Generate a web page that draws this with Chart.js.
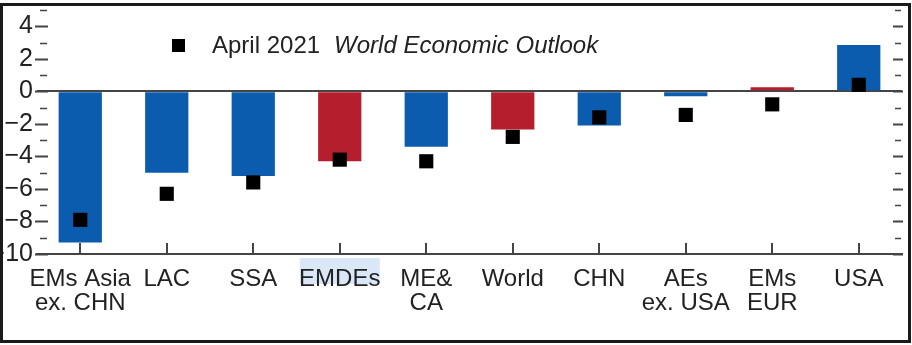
<!DOCTYPE html>
<html>
<head>
    <title>Growth forecast revisions</title>
    <script src="https://cdn.jsdelivr.net/npm/chart.js@4.4.0/dist/chart.umd.min.js"></script>
    <style>
        body {
            margin: 0;
            background: #fff;
            font-family: 'Liberation Sans', Arial, sans-serif;
        }
        .wrap {
            position: relative;
            width: 912px;
            height: 345px;
        }
        .frame {
            position: absolute;
            left: 0;
            top: 3px;
            width: 911px;
            height: 340px;
            box-sizing: border-box;
            border: 3px solid #1a1a1a;
            pointer-events: none;
        }
        .legend {
            position: absolute;
            left: 172px;
            top: 32px;
            font-size: 24px;
            line-height: 25px;
            color: #222;
            white-space: nowrap;
        }
        .legend .box {
            display: inline-block;
            width: 13px;
            height: 13px;
            background: #000;
            margin-right: 27px;
            vertical-align: 1px;
        }
        .legend em {
            margin-left: 14px;
        }
    </style>
</head>
<body>
    <div class="wrap">
        <canvas id="revChart" width="912" height="345"></canvas>
        <div class="legend"><span class="box"></span>April 2021<em>World Economic Outlook</em></div>
        <div class="frame"></div>
    </div>

    <script>
        // regions, left to right
        const categories = [['EMs Asia', 'ex. CHN'], 'LAC', 'SSA', 'EMDEs', ['ME&', 'CA'], 'World', 'CHN', ['AEs', 'ex. USA'], ['EMs', 'EUR'], 'USA'];
        // current revision (bars) and the April 2021 WEO (squares), percentage points
        const current = [-9.3, -5.0, -5.2, -4.3, -3.4, -2.35, -2.1, -0.3, 0.25, 2.85];
        const april2021 = [-7.9, -6.3, -5.6, -4.2, -4.3, -2.8, -1.6, -1.45, -0.8, 0.4];
        // aggregates drawn in red
        const aggregates = ['EMDEs', 'World', 'EMs EUR'];
        const yTicks = { min: -10, max: 5, step: 1 };

        const blue = '#0b5cae';
        const red = '#b41e2d';
        const ink = '#222';
        const axisGrey = '#444';
        const fontFamily = "'Liberation Sans', Arial, sans-serif";
        const highlighted = 'EMDEs';

        function catName(c) {
            return Array.isArray(c) ? c.join(' ') : c;
        }

        // IMF style tick marks: inside the plot on both sides, and up from the x axis
        const tickMarks = {
            id: 'tickMarks',
            beforeDraw(chart) {
                const { ctx, scales: { x } } = chart;
                const i = categories.findIndex(c => catName(c) === highlighted);
                if (i < 0) return;
                const cx = x.getPixelForValue(i);
                ctx.save();
                ctx.fillStyle = '#d9e7f6';
                ctx.fillRect(cx - 40, x.top + 4, 80, 26);
                ctx.restore();
            },
            afterDraw(chart) {
                const { ctx, chartArea: a, scales: { x, y } } = chart;
                ctx.save();
                ctx.strokeStyle = axisGrey;
                y.ticks.forEach(t => {
                    const py = Math.round(y.getPixelForValue(t.value)) + 0.5;
                    const major = t.value % 2 === 0;
                    ctx.lineWidth = major ? 2 : 1.5;
                    ctx.beginPath();
                    if (major) {
                        ctx.moveTo(a.left - 2, py); ctx.lineTo(a.left + 11, py);
                        ctx.moveTo(a.right - 9, py); ctx.lineTo(a.right + 1, py);
                    } else {
                        ctx.moveTo(a.left + 3, py); ctx.lineTo(a.left + 10, py);
                        ctx.moveTo(a.right - 7, py); ctx.lineTo(a.right - 1, py);
                    }
                    ctx.stroke();
                });
                ctx.lineWidth = 2;
                categories.forEach((c, i) => {
                    const px = Math.round(x.getPixelForValue(i));
                    ctx.beginPath();
                    ctx.moveTo(px, a.bottom);
                    ctx.lineTo(px, a.bottom - 11);
                    ctx.stroke();
                });
                ctx.restore();
            }
        };

        const ctx = document.getElementById('revChart').getContext('2d');
        const revChart = new Chart(ctx, {
            type: 'bar',
            data: {
                labels: categories,
                datasets: [
                    {
                        type: 'line',
                        label: 'April 2021 World Economic Outlook',
                        data: april2021,
                        showLine: false,
                        pointStyle: 'rect',
                        pointRadius: 10,
                        pointBackgroundColor: '#000',
                        pointBorderWidth: 0,
                        order: 0
                    },
                    {
                        label: 'Revision',
                        data: current,
                        backgroundColor: c => aggregates.includes(catName(categories[c.dataIndex])) ? red : blue,
                        barPercentage: 0.5,
                        categoryPercentage: 1.0,
                        order: 1
                    }
                ]
            },
            options: {
                responsive: false,
                animation: false,
                devicePixelRatio: 1,
                layout: { padding: { top: 6, right: 6, left: 0, bottom: 0 } },
                plugins: {
                    legend: { display: false },
                    tooltip: { enabled: false }
                },
                scales: {
                    x: {
                        grid: { display: false, drawTicks: false },
                        border: { display: true, color: axisGrey, width: 2 },
                        ticks: {
                            color: ink,
                            font: { family: fontFamily, size: 24, lineHeight: 1.0 },
                            padding: 13,
                            autoSkip: false,
                            maxRotation: 0,
                            minRotation: 0
                        },
                        afterFit: s => { s.height = 91; s.paddingLeft = 0; s.paddingRight = 0; }
                    },
                    y: {
                        min: yTicks.min,
                        max: yTicks.max,
                        grid: {
                            drawTicks: false,
                            color: c => c.tick && c.tick.value === 0 ? axisGrey : 'transparent',
                            lineWidth: 2
                        },
                        border: { display: false },
                        ticks: {
                            stepSize: yTicks.step,
                            autoSkip: false,
                            color: ink,
                            padding: 4,
                            font: { family: fontFamily, size: 25 },
                            callback: v => v % 2 !== 0 ? '' : (v < 0 ? '\u2212' + (-v) : String(v))
                        },
                        afterFit: s => { s.width = 37; s.paddingTop = 0; s.paddingBottom = 0; }
                    }
                }
            },
            plugins: [tickMarks]
        });
    </script>
</body>
</html>
